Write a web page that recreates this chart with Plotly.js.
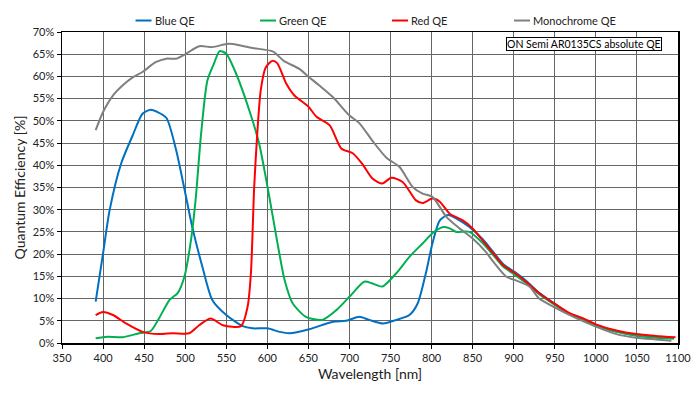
<!DOCTYPE html>
<html>
<head>
<meta charset="utf-8">
<script src="https://cdn.plot.ly/plotly-3.0.1.min.js"></script>
<style>html,body{margin:0;padding:0;background:#fff;}#chart{width:700px;height:393px;}</style>
</head>
<body>
<div id="chart"></div>
<script>
// ---- data (wavelength in nm, QE in %) ----
const wlBlue = [391, 400, 408, 422, 436, 448, 458, 466, 477, 489, 501, 509, 521, 533, 550, 570, 582, 600, 615, 627, 651, 680, 696, 712, 724, 741, 757, 773, 783, 793, 801, 810, 820, 834, 846, 862, 875, 887, 901, 915, 931, 950, 968, 984, 1000, 1025, 1049, 1073, 1095];
const qeBlue = [9.3, 20.2, 29.9, 40.4, 46.7, 51.6, 52.5, 52.0, 50.7, 43.4, 32.9, 25.8, 17.1, 9.7, 6.3, 3.8, 3.3, 3.3, 2.5, 2.2, 3.1, 4.8, 5.0, 5.9, 5.2, 4.4, 5.2, 6.3, 8.9, 15.7, 22.4, 27.6, 28.8, 27.6, 26.1, 23.4, 20.5, 17.8, 16.0, 14.0, 11.3, 8.8, 6.6, 5.4, 4.0, 2.6, 1.7, 1.3, 1.0];

const wlGreen = [391, 405, 424, 444, 458, 468, 481, 491, 499, 507, 513, 519, 527, 535, 542, 550, 562, 578, 590, 602, 611, 621, 631, 647, 667, 684, 700, 718, 728, 740, 757, 773, 789, 801, 814, 822, 830, 846, 862, 875, 887, 901, 915, 931, 950, 968, 984, 1000, 1025, 1049, 1073, 1095];
const qeGreen = [1.05, 1.4, 1.3, 2.2, 2.7, 5.5, 9.7, 11.3, 14.9, 23.1, 32.9, 46.4, 59.1, 62.9, 65.7, 65.1, 60.6, 52.4, 44.9, 33.3, 23.9, 14.2, 8.9, 5.9, 5.2, 7.4, 10.4, 13.8, 13.4, 12.7, 15.7, 19.4, 22.4, 24.7, 26.1, 25.8, 25.0, 25.0, 22.5, 19.8, 17.2, 15.4, 13.5, 11.0, 8.6, 6.5, 5.3, 3.9, 2.5, 1.7, 1.2, 1.05];

const wlRed = [391, 400, 412, 428, 448, 468, 485, 505, 517, 531, 546, 568, 576, 580, 584, 588, 592, 598, 606, 612, 623, 633, 650, 660, 676, 690, 704, 716, 728, 740, 751, 765, 781, 789, 801, 810, 822, 838, 850, 862, 875, 887, 901, 915, 931, 950, 968, 984, 1000, 1025, 1049, 1073, 1097];
const qeRed = [6.3, 7.0, 6.3, 4.4, 2.5, 2.0, 2.2, 2.2, 4.0, 5.5, 4.0, 3.8, 8.2, 15.7, 35.1, 47.9, 56.9, 62.0, 63.5, 63.0, 58.4, 55.7, 53.2, 50.9, 49.0, 43.8, 42.7, 40.2, 37.0, 35.9, 37.2, 36.2, 32.1, 31.5, 32.5, 31.8, 29.1, 27.6, 25.8, 23.1, 20.2, 17.5, 15.8, 13.8, 11.2, 8.8, 6.7, 5.6, 4.2, 2.8, 2.0, 1.6, 1.3];

const wlMono = [391, 400, 412, 424, 436, 448, 464, 477, 489, 501, 517, 533, 550, 558, 582, 607, 620, 639, 651, 663, 680, 700, 712, 728, 745, 761, 777, 789, 801, 818, 834, 850, 866, 875, 891, 901, 919, 931, 952, 976, 1000, 1025, 1049, 1073, 1092];
const qeMono = [47.9, 52.0, 55.7, 58.0, 59.8, 61.0, 63.2, 64.0, 64.0, 65.1, 66.8, 66.6, 67.3, 67.3, 66.4, 65.6, 63.5, 61.7, 59.8, 58.0, 55.3, 51.2, 49.5, 45.5, 41.7, 39.6, 35.1, 33.6, 32.9, 28.4, 25.8, 23.5, 20.5, 18.3, 14.9, 14.2, 12.7, 10.0, 7.8, 5.6, 3.7, 2.0, 1.2, 0.8, 0.5];

const seriesNames = ['Blue QE', 'Green QE', 'Red QE', 'Monochrome QE'];
const seriesColors = ['#0070C0', '#00B050', '#FF0000', '#7F7F7F'];
const xTitle = 'Wavelength [nm]';
const yTitle = 'Quantum Efficiency [%]';
const noteText = 'ON Semi AR0135CS absolute QE';

// ---- plotting ----
const xs = [wlBlue, wlGreen, wlRed, wlMono];
const ys = [qeBlue, qeGreen, qeRed, qeMono];
const traces = xs.map((x, i) => ({
  type: 'scatter', mode: 'lines', name: seriesNames[i], x: x, y: ys[i],
  line: {color: seriesColors[i], width: 2, shape: 'spline', smoothing: 0.7},
  hoverinfo: 'skip'
}));

const M = {l: 62, r: 22, t: 31.5, b: 50};
const W = 700, H = 393;
const pw = W - M.l - M.r, ph = H - M.t - M.b;
const px = p => (p - M.l) / pw;
const py = p => (H - M.b - p) / ph;

// manual legend (positions only)
const legX = [135.5, 260, 392, 514];
const legY = 20;
const shapes = [], annotations = [];
seriesNames.forEach((n, i) => {
  shapes.push({type: 'line', xref: 'paper', yref: 'paper', x0: px(legX[i]), x1: px(legX[i] + 16), y0: py(legY), y1: py(legY),
    line: {color: seriesColors[i], width: 2}});
  annotations.push({xref: 'paper', yref: 'paper', x: px(legX[i] + 17), y: py(legY), xanchor: 'left', yanchor: 'middle',
    text: n, showarrow: false, font: {size: 11, color: '#222'}});
});
annotations.push({xref: 'paper', yref: 'paper', x: px(584.2), y: py(43.8), xanchor: 'center', yanchor: 'middle',
  text: noteText, showarrow: false, font: {size: 10.5, color: '#000'},
  bgcolor: '#fff', bordercolor: '#000', borderwidth: 1, borderpad: 0});

const layout = {
  width: W, height: H,
  margin: M,
  paper_bgcolor: '#fff', plot_bgcolor: '#fff',
  font: {family: 'Lato, "Open Sans", sans-serif', size: 11, color: '#222'},
  showlegend: false,
  xaxis: {
    range: [350, 1100], tick0: 350, dtick: 50, showgrid: true, gridcolor: '#666666', gridwidth: 1,
    showline: true, linecolor: '#000', linewidth: 1.5, mirror: true, zeroline: false,
    ticks: 'outside', ticklen: 4, tickcolor: '#000', tickfont: {size: 11, color: '#222'},
    title: {text: xTitle, font: {size: 14, color: '#222'}, standoff: 6}
  },
  yaxis: {
    range: [0, 70], tick0: 0, dtick: 5, ticksuffix: '%', showgrid: true, gridcolor: '#666666', gridwidth: 1,
    showline: true, linecolor: '#000', linewidth: 1.5, mirror: true, zeroline: false,
    ticks: 'outside', ticklen: 4, tickcolor: '#000', tickfont: {size: 11, color: '#222'},
    title: {text: yTitle, font: {size: 14, color: '#222'}, standoff: 4}
  },
  shapes: shapes,
  annotations: annotations
};

Plotly.newPlot('chart', traces, layout, {displayModeBar: false, staticPlot: true});
</script>
</body>
</html>
